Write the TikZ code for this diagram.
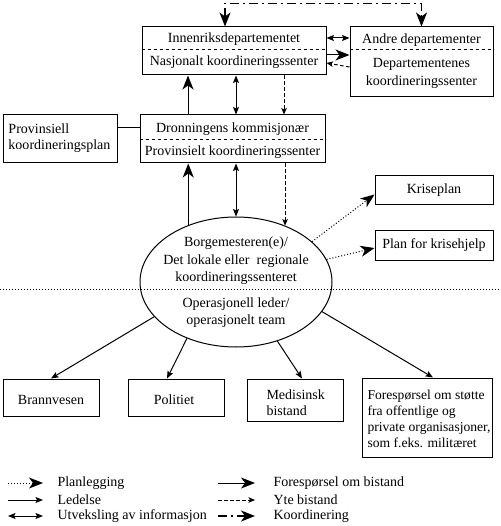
\documentclass[tikz,border=0pt]{standalone}
\usepackage{fontspec}
\setmainfont{Liberation Serif}
\usetikzlibrary{arrows.meta,shapes.geometric}
\begin{document}
\begin{tikzpicture}[x=1pt,y=-1pt,
  font=\fontsize{14}{16}\selectfont,
  line width=1pt,
  box/.style={draw, rectangle, inner sep=0pt},
  txt/.style={inner sep=0pt},
  ltxt/.style={inner sep=0pt, anchor=west, align=left},
  bighead/.style={-{Stealth[length=14pt,width=11pt,inset=4pt]}},
  smallhead/.style={-{Stealth[length=7.5pt,width=6pt,inset=1.5pt]}},
  ledel/.style={smallhead},
  req/.style={bighead},
  info/.style={{Stealth[length=7.5pt,width=6pt,inset=1.5pt]}-{Stealth[length=7.5pt,width=6pt,inset=1.5pt]}},
  yte/.style={-{Stealth[length=6.5pt,width=5.5pt,inset=1.5pt]}, dash pattern=on 3.5pt off 2.5pt},
  plan/.style={bighead, dash pattern=on 1pt off 2pt},
  koord/.style={bighead, line width=1.6pt, dash pattern=on 9pt off 4pt on 2pt off 4pt},
  koordbi/.style={{Stealth[length=14pt,width=11pt,inset=4pt]}-{Stealth[length=14pt,width=11pt,inset=4pt]}, line width=1.6pt, dash pattern=on 9pt off 4pt on 2pt off 4pt},
  divider/.style={dash pattern=on 3.5pt off 2.5pt}
]
\useasboundingbox (0,0) rectangle (500,526);

% top boxes
\node[box, minimum width=184pt, minimum height=48pt] (inn) at (234,51) {};
\node[txt] (inn1) at (234,39) {Innenriksdepartementet};
\node[txt] (inn2) at (234,62) {Nasjonalt koordineringssenter};
\draw[divider] ([yshift=1pt]inn.west) -- ([yshift=1pt]inn.east);

\node[box, minimum width=143pt, minimum height=70pt] (andre) at (421.5,62) {};
\node[txt] (andre1) at (421.5,40) {Andre departementer};
\node[txt, align=center] (andre2) at (421.5,73) {Departementenes\\[2pt]koordineringssenter};
\draw[divider] ([yshift=12pt]andre.west) -- ([yshift=12pt]andre.east);

% middle boxes
\node[box, minimum width=185pt, minimum height=48pt] (dron) at (232.5,139) {};
\node[txt] (dron1) at (232.5,129) {Dronningens kommisjonær};
\node[txt] (dron2) at (232.5,152) {Provinsielt koordineringssenter};
\draw[divider] ([yshift=-1pt]dron.west) -- ([yshift=-1pt]dron.east);

\node[box, minimum width=114pt, minimum height=48pt] (prov) at (60,139) {};
\node[ltxt] (prov1) at (8,138) {Provinsiell\\koordineringsplan};
\draw ([yshift=11pt]prov.east) -- ([yshift=11pt]dron.west);

% plans
\node[box, minimum width=118pt, minimum height=29pt] (krise) at (434,190.5) {};
\node[txt] (krise1) at (434,190) {Kriseplan};
\node[box, minimum width=118pt, minimum height=30pt] (plan) at (434,245) {};
\node[txt] (plan1) at (434,245) {Plan for krisehjelp};

% ellipse
\node[draw, ellipse, minimum width=192pt, minimum height=130pt, inner sep=0pt] (borg) at (236,282) {};
\node[txt] (b1) at (236,243) {Borgemesteren(e)/};
\node[txt] (b2) at (236,261) {Det lokale eller\ \ regionale};
\node[txt] (b3) at (236,278) {koordineringssenteret};
\node[txt] (b4) at (236,304) {Operasjonell leder/};
\node[txt] (b5) at (236,321) {operasjonelt team};
\coordinate (dl) at (0,289);
\coordinate (dr) at (500,289);
\draw[dash pattern=on 1pt off 2pt] (dl) -- (dr);

% bottom boxes
\node[box, minimum width=96pt, minimum height=37pt] (brann) at (51,397.5) {};
\node[txt] (brann1) at (51,400) {Brannvesen};
\node[box, minimum width=96pt, minimum height=37pt] (pol) at (176,397.5) {};
\node[txt] (pol1) at (174,400) {Politiet};
\node[box, minimum width=96pt, minimum height=42pt] (med) at (295,400) {};
\node[ltxt] (med1) at (266,402.5) {Medisinsk\\bistand};
\node[box, minimum width=130pt, minimum height=79pt] (fore) at (427,417.5) {};
\node[ltxt, font=\fontsize{13.6}{16}\selectfont] (fore1) at (367,419) {Forespørsel om støtte\\fra offentlige og\\private organisasjoner,\\som f.eks. militæret};

% vertical connectors
\coordinate (cA) at (188,0);
\coordinate (cB) at (236,0);
\coordinate (cC) at (284,0);
\draw[req] (cA |- dron.north) -- (cA |- inn.south);
\draw[info] (cB |- inn.south) -- (cB |- dron.north);
\draw[yte] (cC |- inn.south) -- (cC |- dron.north);
\draw[req] (borg.130.6) -- (borg.130.6 |- dron.south);
\draw[info] (dron.south -| borg.north) -- (borg.north);
\draw[yte] (borg.49.4 |- dron.south) -- (borg.49.4);

% horizontal connectors top
\draw[info] ([yshift=13pt]inn.east) -- ([yshift=24pt]andre.west);
\draw[req] ([yshift=-4pt]inn.east) -- ([yshift=7pt]andre.west);
\draw[yte] ([yshift=-5pt]andre.west) -- ([yshift=-12pt]inn.east);
\draw[koordbi] ([xshift=-9pt]inn.north) -- ++(0,-23) -| (andre.north);

% plan arrows
\draw[plan] (borg.28.6) -- ([yshift=-4pt]krise.west);
\draw[plan] (borg.14.3) -- ([yshift=-3pt]plan.west);

% bottom arrows
\draw[ledel] (borg.203.4) -- (brann.north);
\draw[ledel] (borg.229.4) -- ([xshift=-9pt]pol.north);
\draw[ledel] (borg.305.3) -- ([xshift=7pt]med.north);
\draw[ledel] (borg.341.4) -- ([xshift=6pt]fore.north);

% legend
\coordinate (l1a) at (8,483);   \coordinate (l1b) at (43,483);
\coordinate (l2a) at (8,500);   \coordinate (l2b) at (43,500);
\coordinate (l3a) at (8,516);   \coordinate (l3b) at (43,516);
\coordinate (r1a) at (218,483); \coordinate (r1b) at (255,483);
\coordinate (r2a) at (218,500); \coordinate (r2b) at (255,500);
\coordinate (r3a) at (218,516); \coordinate (r3b) at (255,516);
\draw[plan] (l1a) -- (l1b);
\draw[ledel] (l2a) -- (l2b);
\draw[info] (l3a) -- (l3b);
\draw[req] (r1a) -- (r1b);
\draw[yte] (r2a) -- (r2b);
\draw[koord] (r3a) -- (r3b);
\node[ltxt] (lt1) at (57,483) {Planlegging};
\node[ltxt] (lt2) at (57,500) {Ledelse};
\node[ltxt] (lt3) at (57,516) {Utveksling av informasjon};
\node[ltxt] (rt1) at (273,483) {Forespørsel om bistand};
\node[ltxt] (rt2) at (273,500) {Yte bistand};
\node[ltxt] (rt3) at (273,516) {Koordinering};
\end{tikzpicture}
\end{document}
